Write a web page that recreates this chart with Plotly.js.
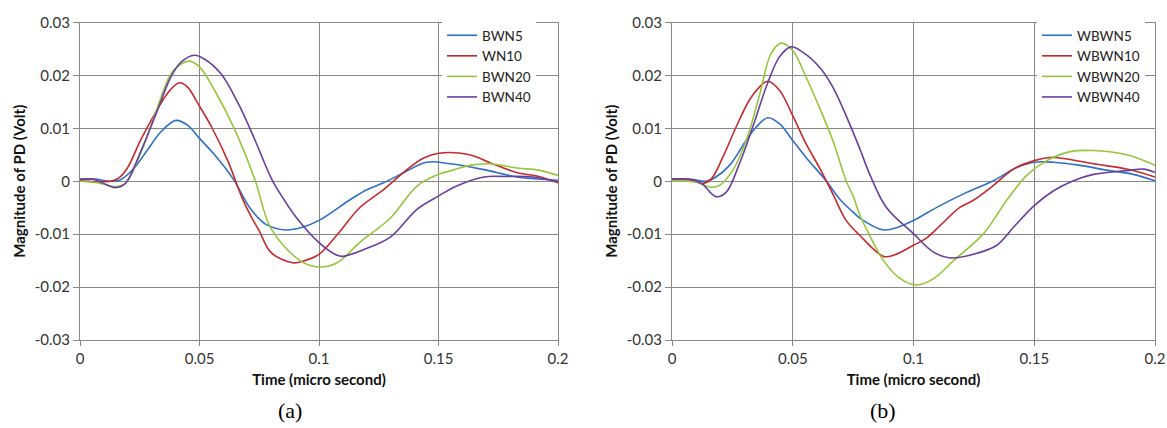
<!DOCTYPE html>
<html>
<head>
<meta charset="utf-8">
<script src="https://cdn.plot.ly/plotly-3.0.1.min.js"></script>
<style>
html,body{margin:0;padding:0;background:#fff;}
#chart{width:1167px;height:428px;}
</style>
</head>
<body>
<div id="chart"></div>
<script>
// ---------- Data (a) ----------
const t_BWN5 = [0,0.006,0.0127,0.017,0.0225,0.0282,0.0338,0.0401,0.045,0.05,0.0563,0.064,0.0715,0.078,0.0861,0.093,0.1,0.113,0.12,0.127,0.1354,0.145,0.155,0.169,0.183,0.2];
const v_BWN5 = [0.0003,0.0004,0.0000,0.0003,0.0024,0.0059,0.0093,0.0115,0.0106,0.0081,0.0050,0.0005,-0.0053,-0.0082,-0.0092,-0.0087,-0.0074,-0.0035,-0.0016,-0.0003,0.0016,0.0036,0.0033,0.0022,0.0008,0.0002];

const t_WN10 = [0,0.0127,0.0162,0.0197,0.0254,0.031,0.0366,0.0415,0.045,0.0493,0.055,0.062,0.0676,0.0715,0.0749,0.08,0.0889,0.094,0.1,0.1076,0.117,0.127,0.1368,0.1438,0.15,0.163,0.1715,0.183,0.192,0.2];
const v_WN10 = [0.0001,0.0000,0.0006,0.0024,0.0078,0.0125,0.0166,0.0186,0.0178,0.0147,0.0103,0.0037,-0.0029,-0.0066,-0.0093,-0.0135,-0.0154,-0.0150,-0.0138,-0.0101,-0.0050,-0.0016,0.0022,0.0044,0.0053,0.0050,0.0035,0.0016,0.0009,-0.0003];

const t_BWN20 = [0,0.0085,0.0148,0.019,0.0254,0.0324,0.038,0.0415,0.0458,0.05,0.0563,0.0648,0.0732,0.08,0.0924,0.1,0.1076,0.117,0.13,0.141,0.15,0.156,0.163,0.1715,0.183,0.192,0.2];
const v_BWN20 = [0.0000,-0.0004,-0.0010,-0.0004,0.0053,0.0140,0.0203,0.0219,0.0227,0.0216,0.0172,0.0097,0.0003,-0.0090,-0.0151,-0.0162,-0.0154,-0.0116,-0.0069,-0.0009,0.0013,0.0021,0.0030,0.0033,0.0025,0.0021,0.0011];

const t_BWN40 = [0,0.0056,0.0113,0.0148,0.019,0.0254,0.0324,0.038,0.0423,0.0479,0.052,0.059,0.0662,0.0732,0.0803,0.0854,0.0901,0.1,0.1076,0.110,0.1188,0.13,0.141,0.15,0.1576,0.169,0.178,0.1896,0.2];
const v_BWN40 = [0.0004,0.0004,-0.0007,-0.0012,-0.0004,0.0056,0.0134,0.0197,0.0225,0.0238,0.0231,0.0203,0.0147,0.0078,0.0003,-0.0035,-0.0066,-0.0116,-0.0140,-0.0142,-0.0129,-0.0105,-0.0053,-0.0028,-0.0009,0.0008,0.0009,0.0008,-0.0001];

// ---------- Data (b) ----------
const t_WBWN5 = [0,0.0086,0.0141,0.0182,0.0238,0.0307,0.0348,0.0396,0.0445,0.05,0.0555,0.0638,0.0697,0.0749,0.0779,0.0876,0.094,0.1,0.111,0.122,0.1331,0.1428,0.15,0.158,0.169,0.18,0.191,0.2];
const v_WBWN5 = [0.0004,0.0003,0.0000,0.0008,0.0030,0.0077,0.0102,0.0120,0.0109,0.0077,0.0045,0.0001,-0.0035,-0.0058,-0.0070,-0.0092,-0.0086,-0.0074,-0.0046,-0.0021,0.0001,0.0026,0.0036,0.0036,0.0030,0.0021,0.0013,0.0001];

const t_WBWN10 = [0,0.0086,0.0127,0.0162,0.021,0.0265,0.032,0.0362,0.0396,0.0445,0.05,0.0555,0.061,0.0666,0.0721,0.0779,0.0876,0.0917,0.1,0.1055,0.111,0.1193,0.1248,0.1331,0.1414,0.15,0.1566,0.1607,0.1745,0.1883,0.2];
const v_WBWN10 = [0.0003,0.0002,-0.0004,0.0004,0.0045,0.0102,0.0153,0.0178,0.0189,0.0172,0.0124,0.0071,0.0026,-0.0024,-0.0074,-0.0103,-0.0142,-0.0140,-0.0121,-0.0107,-0.0084,-0.0049,-0.0036,-0.0008,0.0023,0.0039,0.0045,0.0044,0.0033,0.0023,0.0008];

const t_WBWN20 = [0,0.01,0.0155,0.0196,0.0251,0.0307,0.0362,0.041,0.0452,0.05,0.0555,0.061,0.0666,0.0721,0.0752,0.0776,0.0807,0.0876,0.0945,0.1014,0.1083,0.1166,0.129,0.1386,0.1469,0.1552,0.1648,0.1745,0.1883,0.2];
const v_WBWN20 = [0.0001,-0.0002,-0.0011,-0.0008,0.0020,0.0077,0.0162,0.0241,0.0261,0.0247,0.0197,0.0140,0.0077,0.0001,-0.0030,-0.0062,-0.0092,-0.0150,-0.0184,-0.0196,-0.0184,-0.0150,-0.0099,-0.0036,0.0011,0.0039,0.0056,0.0058,0.0050,0.0030];

const t_WBWN40 = [0,0.0086,0.0127,0.0182,0.0224,0.0279,0.0334,0.039,0.0445,0.0493,0.0541,0.061,0.0666,0.0735,0.0779,0.0818,0.0887,0.1,0.1083,0.1152,0.1248,0.1345,0.1414,0.15,0.158,0.1662,0.1745,0.1883,0.1952,0.2];
const v_WBWN40 = [0.0004,0.0003,-0.0006,-0.0029,-0.0021,0.0033,0.0102,0.0178,0.0235,0.0254,0.0244,0.0216,0.0178,0.0109,0.0060,0.0014,-0.0049,-0.0099,-0.0134,-0.0145,-0.0138,-0.0121,-0.0087,-0.0046,-0.0018,0.0001,0.0013,0.0020,0.0023,0.0017];

// ---------- Tick labels ----------
const xTickVals = [0, 0.05, 0.1, 0.15, 0.2];
const xTickText = ["0", "0.05", "0.1", "0.15", "0.2"];
const yTickVals = [-0.03, -0.02, -0.01, 0, 0.01, 0.02, 0.03];
const yTickText = ["-0.03", "-0.02", "-0.01", "0", "0.01", "0.02", "0.03"];

const names_a = ["BWN5", "WN10", "BWN20", "BWN40"];
const names_b = ["WBWN5", "WBWN10", "WBWN20", "WBWN40"];
const colors = ["#2F6FC6", "#C52A2C", "#96C63C", "#6A3E9E"];

const series_a = [[t_BWN5, v_BWN5], [t_WN10, v_WN10], [t_BWN20, v_BWN20], [t_BWN40, v_BWN40]];
const series_b = [[t_WBWN5, v_WBWN5], [t_WBWN10, v_WBWN10], [t_WBWN20, v_WBWN20], [t_WBWN40, v_WBWN40]];

const traces = [];
series_a.forEach((s, i) => traces.push({
  x: s[0], y: s[1], name: names_a[i], type: 'scatter', mode: 'lines',
  line: {color: colors[i], width: 1.6, shape: 'spline', smoothing: 1},
  xaxis: 'x', yaxis: 'y', legend: 'legend', legendgroup: 'a' + i
}));
series_b.forEach((s, i) => traces.push({
  x: s[0], y: s[1], name: names_b[i], type: 'scatter', mode: 'lines',
  line: {color: colors[i], width: 1.6, shape: 'spline', smoothing: 1},
  xaxis: 'x2', yaxis: 'y2', legend: 'legend2', legendgroup: 'b' + i
}));

const FONT = 'Lato, "Open Sans", sans-serif';
const GRID = '#888888';
const yDom = [1 - 340/428, 1 - 22.5/428];

function xAxis(dom, anchor) {
  return {
    domain: dom, anchor: anchor, range: [0, 0.2],
    tickvals: xTickVals, ticktext: xTickText,
    showgrid: true, gridcolor: GRID, gridwidth: 1,
    showline: true, linecolor: GRID, linewidth: 1, mirror: true,
    ticks: 'outside', ticklen: 5, tickcolor: GRID,
    zeroline: false,
    tickfont: {family: FONT, size: 15, color: '#333'},
    title: {text: '<b>Time (micro second)</b>', font: {family: FONT, size: 15, color: '#111'}, standoff: 8},
    automargin: false, fixedrange: true
  };
}
function yAxis(dom, anchor) {
  return {
    domain: dom, anchor: anchor, range: [-0.03, 0.03],
    tickvals: yTickVals, ticktext: yTickText,
    showgrid: true, gridcolor: GRID, gridwidth: 1,
    showline: true, linecolor: GRID, linewidth: 1, mirror: true,
    ticks: 'outside', ticklen: 6, tickcolor: GRID,
    zeroline: false,
    tickfont: {family: FONT, size: 15, color: '#333'},
    title: {text: '<b>Magnitude of PD (Volt)</b>', font: {family: FONT, size: 15, color: '#111'}, standoff: 5},
    automargin: false, fixedrange: true
  };
}

const legendCommon = {
  bgcolor: 'rgba(255,255,255,1)', borderwidth: 0,
  font: {family: FONT, size: 13.5, color: '#222'},
  xanchor: 'left', yanchor: 'top', tracegroupgap: 0, itemwidth: 30
};

const layout = {
  width: 1167, height: 428,
  margin: {l: 0, r: 0, t: 0, b: 0},
  paper_bgcolor: '#ffffff', plot_bgcolor: '#ffffff',
  showlegend: true,
  xaxis: xAxis([80/1167, 558/1167], 'y'),
  yaxis: yAxis(yDom, 'x'),
  xaxis2: xAxis([672/1167, 1155/1167], 'y2'),
  yaxis2: yAxis(yDom, 'x2'),
  legend: Object.assign({x: 442/1167, y: 1 - 20/428}, legendCommon),
  legend2: Object.assign({x: 1037/1167, y: 1 - 20/428}, legendCommon),
  annotations: [
    {text: '(a)', x: 290/1167, y: 1 - 410/428, xref: 'paper', yref: 'paper', showarrow: false,
     xanchor: 'center', yanchor: 'middle',
     font: {family: '"Liberation Serif", "Times New Roman", serif', size: 22, color: '#000'}},
    {text: '(b)', x: 883/1167, y: 1 - 410/428, xref: 'paper', yref: 'paper', showarrow: false,
     xanchor: 'center', yanchor: 'middle',
     font: {family: '"Liberation Serif", "Times New Roman", serif', size: 22, color: '#000'}}
  ],
  hovermode: false
};

Plotly.newPlot('chart', traces, layout, {displayModeBar: false, staticPlot: true});
</script>
</body>
</html>
